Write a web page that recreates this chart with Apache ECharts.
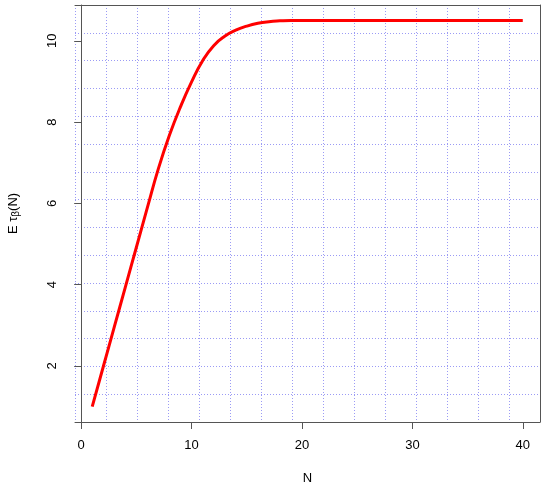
<!DOCTYPE html>
<html>
<head>
<meta charset="utf-8">
<script src="https://cdn.jsdelivr.net/npm/echarts@6/dist/echarts.min.js"></script>
<style>
html, body { margin: 0; padding: 0; background: #fff; }
#main { width: 550px; height: 495px; }
</style>
</head>
<body>
<div id="main"></div>
<script>
// N values and E tau(N)
var nValues = [1, 2, 3, 4, 5, 6, 7, 8, 9, 10, 11, 12, 13, 14, 15, 16, 17, 18, 19, 20,
    21, 22, 23, 24, 25, 26, 27, 28, 29, 30, 31, 32, 33, 34, 35, 36, 37, 38, 39, 40];
var tauValues = [1.00, 1.98, 2.96, 3.94, 4.92, 5.90, 6.86, 7.68, 8.38, 8.99,
    9.51, 9.88, 10.11, 10.26, 10.36, 10.43, 10.47, 10.49, 10.50, 10.50,
    10.50, 10.50, 10.50, 10.50, 10.50, 10.50, 10.50, 10.50, 10.50, 10.50,
    10.50, 10.50, 10.50, 10.50, 10.50, 10.50, 10.50, 10.50, 10.50, 10.50];
var xTicks = [0, 10, 20, 30, 40];
var yTicks = [2, 4, 6, 8, 10];

var seriesData = nValues.map(function (n, i) { return [n, tauValues[i]]; });

var boxColor = '#555';
var gridLine = { show: true, lineStyle: { color: '#9b9bf5', width: 1, type: [1, 2] } };

var myChart = echarts.init(document.getElementById('main'));
var option = {
    animation: false,
    grid: { left: 75, right: 10, top: 5, bottom: 73, outerBoundsMode: 'none', containLabel: false },
    xAxis: [{
        type: 'value',
        min: -0.56,
        max: 41.56,
        name: 'N',
        nameLocation: 'middle',
        nameGap: 50,
        nameTextStyle: { color: '#000', fontSize: 13, fontFamily: 'Liberation Sans' },
        axisLine: { show: true, lineStyle: { color: boxColor } },
        axisTick: { show: true, customValues: xTicks, length: 7, lineStyle: { color: boxColor } },
        axisLabel: { customValues: xTicks, color: '#000', fontSize: 13, margin: 17, fontFamily: 'Liberation Sans' },
        splitLine: { show: false }
    }, {
        // grid(15, 15) helper axis
        type: 'value',
        position: 'top',
        min: 0,
        max: 15,
        interval: 1,
        axisLine: { show: true, onZero: false, lineStyle: { color: boxColor } },
        axisTick: { show: false },
        axisLabel: { show: false },
        splitLine: gridLine
    }],
    yAxis: [{
        type: 'value',
        min: 0.62,
        max: 10.88,
        name: '{n|E τ}{s|β}{n|(N)}',
        nameLocation: 'middle',
        nameGap: 54,
        nameTextStyle: {
            rich: {
                n: { color: '#000', fontSize: 13, fontFamily: 'Liberation Sans' },
                s: { color: '#000', fontSize: 10, fontFamily: 'Liberation Sans', padding: [6, 0, 0, 0] }
            }
        },
        axisLine: { show: true, lineStyle: { color: boxColor } },
        axisTick: { show: true, customValues: yTicks, length: 7, lineStyle: { color: boxColor } },
        axisLabel: { customValues: yTicks, rotate: 90, color: '#000', fontSize: 13, margin: 16, fontFamily: 'Liberation Sans' },
        splitLine: { show: false }
    }, {
        type: 'value',
        position: 'right',
        min: 0,
        max: 15,
        interval: 1,
        axisLine: { show: true, onZero: false, lineStyle: { color: boxColor } },
        axisTick: { show: false },
        axisLabel: { show: false },
        splitLine: gridLine
    }],
    series: [{
        type: 'line',
        xAxisIndex: 0,
        yAxisIndex: 0,
        data: seriesData,
        smooth: 0.5,
        showSymbol: false,
        lineStyle: { color: '#ff0000', width: 3 },
        z: 5
    }]
};
myChart.setOption(option);
</script>
</body>
</html>
